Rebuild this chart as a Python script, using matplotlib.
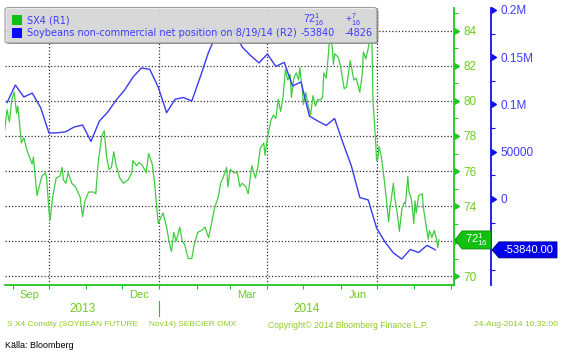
import pandas as pd
import matplotlib
matplotlib.use("Agg")
import matplotlib.pyplot as plt
import matplotlib.dates as mdates
import matplotlib.ticker as mticker
import matplotlib.transforms as mtransforms
import matplotlib.markers as mmarkers
from matplotlib.patches import Polygon, Rectangle, FancyBboxPatch
from matplotlib.lines import Line2D

plt.rcParams['font.family'] = ['Liberation Sans', 'DejaVu Sans']
plt.rcParams['mathtext.fontset'] = 'custom'
plt.rcParams['mathtext.rm'] = 'Liberation Sans'
plt.rcParams['mathtext.it'] = 'Liberation Sans'

# SX4 (soybean future Nov14), closes
sx4_dates = [
    "2013-08-25", "2013-08-27", "2013-08-29", "2013-08-31", "2013-09-02", "2013-09-04", "2013-09-05",
    "2013-09-08", "2013-09-10", "2013-09-13", "2013-09-17", "2013-09-18", "2013-09-21", "2013-09-25",
    "2013-09-28", "2013-09-29", "2013-10-01", "2013-10-02", "2013-10-04", "2013-10-07", "2013-10-10",
    "2013-10-12", "2013-10-13", "2013-10-15", "2013-10-17", "2013-10-20", "2013-10-23", "2013-10-25",
    "2013-10-27", "2013-10-29", "2013-10-31", "2013-11-03", "2013-11-07", "2013-11-09", "2013-11-11",
    "2013-11-14", "2013-11-16", "2013-11-18", "2013-11-20", "2013-11-22", "2013-11-24", "2013-11-26",
    "2013-11-29", "2013-12-02", "2013-12-06", "2013-12-09", "2013-12-10", "2013-12-13", "2013-12-15",
    "2013-12-18", "2013-12-21", "2013-12-23", "2013-12-26", "2013-12-28", "2013-12-31", "2014-01-02",
    "2014-01-04", "2014-01-07", "2014-01-09", "2014-01-11", "2014-01-13", "2014-01-15", "2014-01-18",
    "2014-01-20", "2014-01-22", "2014-01-25", "2014-01-28", "2014-01-30", "2014-02-02", "2014-02-05",
    "2014-02-08", "2014-02-11", "2014-02-14", "2014-02-16", "2014-02-19", "2014-02-21", "2014-02-23",
    "2014-02-26", "2014-02-27", "2014-03-01", "2014-03-04", "2014-03-07", "2014-03-09", "2014-03-11",
    "2014-03-14", "2014-03-16", "2014-03-19", "2014-03-22", "2014-03-24", "2014-03-26", "2014-03-29",
    "2014-03-30", "2014-04-01", "2014-04-04", "2014-04-06", "2014-04-08", "2014-04-10", "2014-04-12",
    "2014-04-14", "2014-04-16", "2014-04-18", "2014-04-20", "2014-04-21", "2014-04-23", "2014-04-25",
    "2014-04-27", "2014-04-28", "2014-04-30", "2014-05-01", "2014-05-03", "2014-05-05", "2014-05-07",
    "2014-05-09", "2014-05-11", "2014-05-13", "2014-05-15", "2014-05-17", "2014-05-18", "2014-05-20",
    "2014-05-22", "2014-05-23", "2014-05-25", "2014-05-26", "2014-05-27", "2014-05-30", "2014-06-01",
    "2014-06-04", "2014-06-06", "2014-06-09", "2014-06-10", "2014-06-12", "2014-06-14", "2014-06-17",
    "2014-06-19", "2014-06-20", "2014-06-22", "2014-06-24", "2014-06-26", "2014-06-27", "2014-06-28",
    "2014-06-30", "2014-07-01", "2014-07-02", "2014-07-03", "2014-07-05", "2014-07-07", "2014-07-09",
    "2014-07-11", "2014-07-12", "2014-07-15", "2014-07-16", "2014-07-18", "2014-07-20", "2014-07-22",
    "2014-07-24", "2014-07-25", "2014-07-27", "2014-07-28", "2014-07-30", "2014-08-01", "2014-08-02",
    "2014-08-03", "2014-08-05", "2014-08-08", "2014-08-09", "2014-08-11", "2014-08-13", "2014-08-14",
    "2014-08-16", "2014-08-18", "2014-08-20", "2014-08-21", "2014-08-22",
]
sx4_values = [
    78.3, 79.5, 78.8, 80.1, 80.5, 79.3, 79.7,
    77.6, 77.9, 77.1, 76.4, 76.8, 74.6, 75.7,
    75.9, 75.6, 73.7, 73.2, 74.5, 75.6, 75.7,
    76.2, 75.5, 75.3, 75.9, 75.3, 75.1, 74.8,
    74.5, 73.4, 74.3, 74.8, 74.8, 74.7, 76.5,
    78.0, 78.3, 76.8, 76.1, 76.2, 77.1, 76.3,
    75.6, 75.3, 75.5, 75.9, 76.6, 76.3, 76.5,
    76.3, 75.9, 77.0, 76.4, 75.3, 73.0, 73.3,
    73.6, 72.8, 72.0, 71.4, 72.5, 72.0, 72.8,
    72.0, 71.8, 71.0, 71.0, 71.8, 72.5, 72.6,
    72.8, 72.2, 73.2, 73.9, 74.5, 75.3, 75.6,
    76.2, 75.1, 76.1, 75.9, 75.9, 75.1, 75.3,
    75.1, 74.7, 76.3, 75.6, 76.2, 77.3, 77.6,
    76.9, 77.9, 78.9, 79.2, 79.0, 80.1, 79.4,
    80.2, 81.8, 81.2, 81.5, 80.2, 81.3, 81.6,
    81.2, 81.9, 80.7, 79.8, 80.5, 79.7, 79.2,
    80.3, 79.7, 80.1, 80.05, 80.2, 81.6, 81.3,
    82.8, 83.9, 83.1, 82.1, 82.7, 82.5, 81.95,
    80.7, 80.8, 82.3, 81.95, 81.2, 81.3, 80.5,
    81.5, 82.8, 82.4, 83.0, 83.9, 83.8, 80.0,
    77.9, 76.6, 76.7, 77.4, 76.8, 75.7, 74.5,
    73.1, 73.8, 75.3, 74.5, 73.7, 72.55, 73.8,
    74.2, 74.1, 75.7, 74.8, 74.4, 73.0, 74.3,
    73.6, 74.6, 74.7, 73.9, 73.0, 72.1, 72.6,
    72.2, 72.6, 72.1, 71.625, 72.0625,
]

# soybeans non-commercial net position, weekly reports (Tuesdays)
cot_first_report = "2013-08-27"
cot_values = [
    102000, 120600, 107900, 112100, 96800, 69800, 70000, 71200, 76200, 78300,
    61000, 82500, 92000, 104700, 115300, 129000, 138600, 137200, 118500, 91300,
    105500, 107400, 103700, 129000, 155500, 175600, 180400, 178800, 160800, 151800,
    144000, 153400, 140200, 144600, 119600, 123800, 87800, 82500, 77800, 85200,
    59200, 34900, 1600, -1000, -30700, -45500, -57100, -63500, -53400, -56600,
    -49014, -53840,
]
cot_dates = pd.date_range(cot_first_report, periods=len(cot_values), freq="7D")

sx4_name = "SX4 (R1)"
cot_name = "Soybeans non-commercial net position on 8/19/14 (R2)"
green_ticks = [70, 72, 74, 76, 78, 80, 82, 84]
green_minor = [71, 73, 75, 77, 79, 81, 83, 85]
blue_ticks = [0, 50000, 100000, 150000, 200000]
blue_tick_labels = ["0", "50000", "0.1M", "0.15M", "0.2M"]
blue_minor = [-75000, -25000, 25000, 75000, 125000, 175000]
quarter_lines = ["2013-10-01", "2014-01-01", "2014-04-01", "2014-07-01"]
year_break = "2014-01-01"

GREEN_LINE = "#3fcc3f"
GREEN_AX = "#1ec81e"
GREEN_TXT = "#6ccc1c"
FOOT = "#8fcc22"
BLUE_LINE = "#3a3af0"
BLUE_AX = "#1010ee"
BLUE_TXT = "#3d3dff"
GRID = "#333333"
LEG_FONT = ["DejaVu Sans"]

W, H = 565, 356
fig = plt.figure(figsize=(W / 100, H / 100), dpi=100)
ax = fig.add_axes([5 / W, 1 - 285 / H, 449 / W, 277 / H])
ax2 = ax.twinx()

ax.plot(pd.to_datetime(sx4_dates), sx4_values, color=GREEN_LINE, lw=0.9, zorder=3)
ax2.plot(cot_dates, cot_values, color=BLUE_LINE, lw=1.0, zorder=3)

ax.set_xlim(pd.Timestamp("2013-08-25 08:00"), pd.Timestamp("2014-09-03 12:00"))
ax.set_ylim(69.49, 85.31)
ax2.set_ylim(-91000, 202100)

g_last = sx4_values[-1]
b_last = cot_values[-1]

# spines
for s in ["left", "top"]:
    ax.spines[s].set_visible(False)
for s in ["left", "top", "bottom"]:
    ax2.spines[s].set_visible(False)
ax.spines["right"].set_color(GREEN_AX)
ax.spines["right"].set_linewidth(1.3)
ax.spines["bottom"].set_color(GREEN_AX)
ax.spines["bottom"].set_linewidth(1.3)
ax2.spines["right"].set_position(("axes", 486 / 449))
ax2.spines["right"].set_color(BLUE_AX)
ax2.spines["right"].set_linewidth(1.3)

# green (R1) axis, the label under the last-value tag is hidden like in the terminal
ax.yaxis.tick_right()
ax.yaxis.set_major_locator(mticker.FixedLocator(green_ticks))
ax.yaxis.set_minor_locator(mticker.FixedLocator(green_minor))
ax.yaxis.set_major_formatter(mticker.FuncFormatter(
    lambda v, p: "" if abs(v - g_last) < 0.6 else "%d" % v))
ax.tick_params(axis="y", which="major", length=5, width=1, color=GREEN_AX,
               labelcolor=GREEN_TXT, labelsize=8.5, pad=1.5)
ax.tick_params(axis="y", which="minor", length=3, width=0.8, color=GREEN_AX)

# blue (R2) axis
ax2.yaxis.set_major_locator(mticker.FixedLocator(blue_ticks))
ax2.yaxis.set_major_formatter(mticker.FixedFormatter(blue_tick_labels))
ax2.yaxis.set_minor_locator(mticker.FixedLocator(blue_minor))
ax2.tick_params(axis="y", which="major", length=5, width=1, color=BLUE_AX,
                labelcolor=BLUE_TXT, labelsize=8.5, pad=1.5)
ax2.tick_params(axis="y", which="minor", length=3, width=0.8, color=BLUE_AX)

for t in ax.yaxis.get_major_ticks() + ax2.yaxis.get_major_ticks():
    t.tick2line.set_marker(mmarkers.CARETRIGHTBASE)

# x axis: month ticks, quarter labels mid-month
ax.xaxis.set_minor_locator(mdates.MonthLocator())
ax.xaxis.set_major_locator(mdates.MonthLocator(bymonth=[3, 6, 9, 12], bymonthday=15))
ax.xaxis.set_major_formatter(mdates.DateFormatter("%b"))
ax.tick_params(axis="x", which="major", length=0, labelsize=8, labelcolor=GREEN_TXT, pad=3.5)
ax.tick_params(axis="x", which="minor", length=3, width=0.8, color=GREEN_AX)

# dotted grid
ax.grid(axis="y", which="major", color=GRID, linestyle=(0, (1, 1.6)), linewidth=0.9)
for d in quarter_lines:
    ax.axvline(pd.Timestamp(d), color=GRID, linestyle=(0, (1, 1.6)), linewidth=0.9, zorder=1)

# year row
trans = mtransforms.blended_transform_factory(ax.transData, ax.transAxes)
x0, x1 = ax.get_xlim()
jan1 = mdates.date2num(pd.Timestamp(year_break))
ax.text((x0 + jan1) / 2, -0.087, "2013", transform=trans, ha="center", va="center",
        fontsize=8.5, color=GREEN_TXT, clip_on=False)
ax.text((jan1 + x1) / 2, -0.087, "2014", transform=trans, ha="center", va="center",
        fontsize=8.5, color=GREEN_TXT, clip_on=False)
ax.add_line(Line2D([jan1, jan1], [-0.058, -0.112], transform=trans, color=GREEN_AX,
                   lw=0.8, clip_on=False))

# legend box (semi transparent, lines show through)
def fx(px):
    return px / W

def fy(py):
    return 1 - py / H

fig.add_artist(FancyBboxPatch((fx(6.5), fy(44)), fx(372), 35 / H,
                              boxstyle="round,pad=0,rounding_size=0.006",
                              facecolor="#8a8a8a", edgecolor="none", alpha=0.8, zorder=4))
fig.add_artist(FancyBboxPatch((fx(5), fy(43)), fx(372), 35.5 / H,
                              boxstyle="round,pad=0,rounding_size=0.006",
                              facecolor="#eeeeee", edgecolor="#7a7a7a", lw=0.8,
                              alpha=0.72, zorder=5))
fig.add_artist(Rectangle((fx(12), fy(24.5)), fx(10), 10 / H, facecolor="#10c010",
                         edgecolor="none", zorder=6))
fig.add_artist(Rectangle((fx(12), fy(37.5)), fx(10), 10 / H, facecolor="#0a0aff",
                         edgecolor="none", zorder=6))
fig.text(fx(27), fy(20.5), sx4_name, fontsize=7, family=LEG_FONT, color=BLUE_TXT,
         va="center", zorder=7)
fig.text(fx(27), fy(33), cot_name, fontsize=7, family=LEG_FONT, color=BLUE_TXT,
         va="center", zorder=7)

g_whole = int(g_last)
g_frac = round((g_last - g_whole) * 16)
g_chg = round((sx4_values[-1] - sx4_values[-2]) * 16)
b_chg = cot_values[-1] - cot_values[-2]
fig.text(fx(303), fy(20), r"$%d^{%d}_{16}$" % (g_whole, g_frac), fontsize=7.5,
         color=BLUE_TXT, va="center", zorder=7)
fig.text(fx(345), fy(20), r"${%s}^{%d}_{16}$" % ("+" if g_chg >= 0 else "-", abs(g_chg)),
         fontsize=7.5, color=BLUE_TXT, va="center", zorder=7)
fig.text(fx(335), fy(33), "%d" % b_last, fontsize=7, family=LEG_FONT, color=BLUE_TXT,
         va="center", ha="right", zorder=7)
fig.text(fx(345), fy(33), "%d" % b_chg, fontsize=7, family=LEG_FONT, color=BLUE_TXT,
         va="center", zorder=7)

# last value tags on the axes
spine_g = ax.transAxes.transform((1, 0))[0]
spine_b = ax2.transAxes.transform((486 / 449, 0))[0]
yg = ax.transData.transform((0, g_last))[1]
yb = ax2.transData.transform((0, b_last))[1]
ident = mtransforms.IdentityTransform()
fig.add_artist(Polygon([(spine_g + 1, yg), (spine_g + 8, yg + 9), (spine_g + 37, yg + 9),
                        (spine_g + 37, yg - 9), (spine_g + 8, yg - 9)], closed=True,
                       facecolor="#12c012", edgecolor="#0a8a0a", lw=0.6,
                       transform=ident, zorder=8))
fig.text((spine_g + 22.5) / W, yg / H, r"$%d^{%d}_{16}$" % (g_whole, g_frac),
         fontsize=8, color="white", ha="center", va="center", zorder=9)
fig.add_artist(Polygon([(spine_b + 1, yb), (spine_b + 8, yb + 8), (spine_b + 66, yb + 8),
                        (spine_b + 66, yb - 8), (spine_b + 8, yb - 8)], closed=True,
                       facecolor="#0000ee", edgecolor="#00008a", lw=0.6,
                       transform=ident, zorder=8))
fig.text((spine_b + 37) / W, yb / H, "%.2f" % b_last, fontsize=8, color="white",
         ha="center", va="center", zorder=9)

# footer
fig.text(fx(7), fy(325), "S X4 Comdty (SOYBEAN FUTURE", fontsize=6, color=FOOT, va="center")
fig.text(fx(149), fy(325), "Nov14) SEBCIER OMX", fontsize=6, color=FOOT, va="center")
fig.text(fx(268), fy(325), "Copyright\u00a9 2014 Bloomberg Finance L.P.", fontsize=6.2,
         color=FOOT, va="center")
fig.text(fx(558), fy(325), "24-Aug-2014 10:32:00", fontsize=6, color=FOOT, va="center",
         ha="right")
fig.text(fx(5), fy(346), "K\u00e4lla: Bloomberg", fontsize=6.5, color="black", va="center")

fig.savefig("out.png", dpi=100, facecolor="white")
